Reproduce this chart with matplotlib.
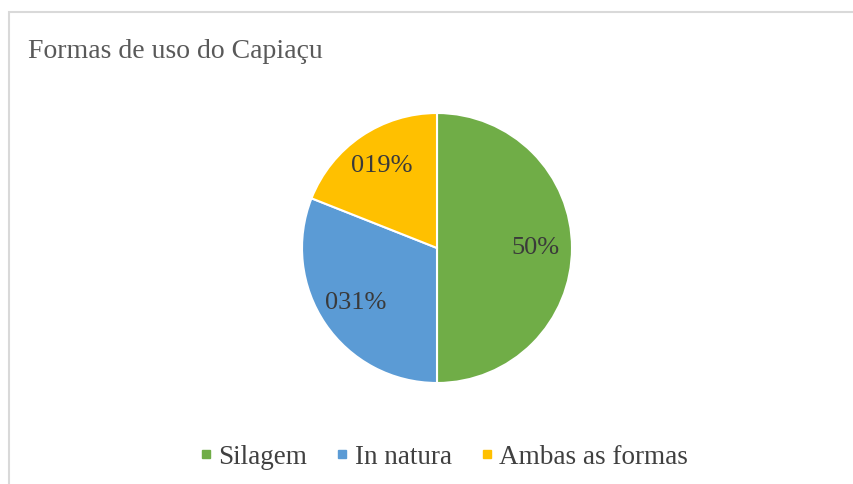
import matplotlib.pyplot as plt
from matplotlib.lines import Line2D
from matplotlib.patches import Rectangle

plt.rcParams['font.family'] = ['Liberation Serif', 'DejaVu Serif']

categories = ["Silagem", "In natura", "Ambas as formas"]
shares = [50, 31, 19]
pct_labels = ["50%", "031%", "019%"]
colors = ["#70AD47", "#5B9BD5", "#FFC000"]

W, H = 854, 484
fig = plt.figure(figsize=(W / 100, H / 100), dpi=100)
ax = fig.add_axes([0, 0, 1, 1])

wedges, texts, autotexts = ax.pie(
    shares, colors=colors, startangle=90, counterclock=False,
    center=(437, H - 248), radius=135, autopct="%d%%", pctdistance=0.73,
    wedgeprops=dict(edgecolor="white", linewidth=1.5),
    textprops=dict(color="#3a3a3a", fontsize=19),
)
for t, s in zip(autotexts, pct_labels):
    t.set_text(s)

ax.set_xlim(0, W)
ax.set_ylim(0, H)
ax.set_aspect("auto")
ax.axis("off")

# chart border (only top and left edges are visible)
fig.patches.append(Rectangle((9 / W, -0.1), 1.2, (H - 12) / H + 0.1,
                             transform=fig.transFigure, fill=False,
                             edgecolor="#D9D9D9", linewidth=1.5))

fig.text(28 / W, 1 - 52 / H, "Formas de uso do Capiaçu", fontsize=20,
         color="#595959", va="center", ha="left")

handles = [Line2D([], [], marker="s", linestyle="none", markersize=6,
                  markerfacecolor=c, markeredgecolor=c) for c in colors]
fig.legend(handles, categories, loc="center", bbox_to_anchor=(443 / W, 1 - 457 / H),
           ncol=3, frameon=False, fontsize=19.5, handletextpad=0.15,
           columnspacing=1.0, handlelength=0.6, labelcolor="#404040")

fig.savefig("out.png", dpi=100)
